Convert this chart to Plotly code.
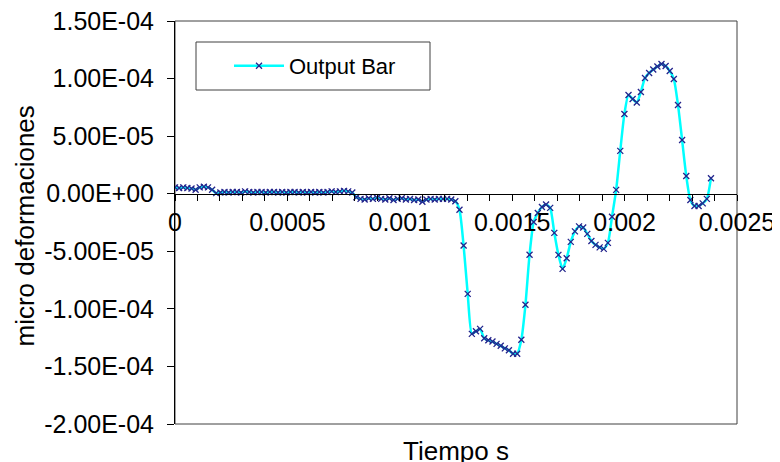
import plotly.graph_objects as go

# time in microseconds
t_us = [0, 18.3, 36.7, 55.0, 73.4, 91.7, 110.0, 128.4, 146.7, 165.1,
        183.4, 201.7, 220.1, 238.4, 256.8, 275.1, 293.4, 311.8, 330.1, 348.5,
        366.8, 385.1, 403.5, 421.8, 440.2, 458.5, 476.8, 495.2, 513.5, 531.9,
        550.2, 568.5, 586.9, 605.2, 623.6, 641.9, 660.2, 678.6, 696.9, 715.3,
        733.6, 751.9, 770.3, 788.6, 807.0, 825.3, 843.6, 862.0, 880.3, 898.7,
        917.0, 935.3, 953.7, 972.0, 990.4, 1008.7, 1027.0, 1045.4, 1063.7, 1082.1,
        1100.4, 1118.7, 1137.1, 1155.4, 1173.8, 1192.1, 1210.4, 1228.8, 1247.1, 1265.5,
        1283.8, 1302.1, 1320.5, 1338.8, 1357.2, 1375.5, 1393.8, 1412.2, 1430.5, 1448.9,
        1467.2, 1485.5, 1503.9, 1522.2, 1540.6, 1558.9, 1577.2, 1595.6, 1613.9, 1632.3,
        1650.6, 1668.9, 1687.3, 1705.6, 1724.0, 1742.3, 1760.6, 1779.0, 1797.3, 1815.7,
        1834.0, 1852.3, 1870.7, 1889.0, 1907.4, 1925.7, 1944.0, 1962.4, 1980.7, 1999.1,
        2017.4, 2035.7, 2054.1, 2072.4, 2090.8, 2109.1, 2127.4, 2145.8, 2164.1, 2182.5,
        2200.8, 2219.1, 2237.5, 2255.8, 2274.2, 2292.5, 2310.8, 2329.2, 2347.5, 2365.9,
        2384.2]

# strain values in units of 1e-6
strain_e6 = [5.5, 5.0, 5.5, 5.0, 4.5, 3.5, 5.5, 6.0, 5.5, 3.5,
             0.5, 1.0, 1.5, 1.0, 1.5, 1.5, 1.0, 2.0, 1.5, 1.0,
             1.5, 1.5, 1.0, 1.5, 1.5, 1.0, 1.5, 1.0, 1.5, 1.5,
             1.0, 1.5, 1.0, 1.5, 1.0, 1.5, 1.0, 1.5, 2.0, 1.5,
             2.0, 2.5, 2.0, 1.0, -3.0, -4.5, -5.0, -4.0, -4.5, -3.5,
             -4.5, -5.0, -4.0, -5.5, -4.5, -4.0, -5.0, -4.5, -5.5, -5.0,
             -7.0, -5.0, -4.5, -5.0, -4.5, -4.5, -4.5, -5.0, -6.5, -14.0,
             -45.0, -87.0, -121.7, -119.5, -117.4, -125.6, -127.3, -128.4, -130.4, -132.1,
             -134.3, -136.0, -139.0, -139.0, -126.9, -96.5, -53.0, -24.5, -16.7, -11.5,
             -9.3, -12.3, -34.0, -53.1, -65.3, -56.0, -41.8, -32.7, -28.4, -29.3,
             -34.9, -41.0, -44.4, -46.6, -47.9, -42.7, -20.0, 3.3, 37.2, 69.3,
             85.8, 82.3, 79.2, 88.4, 100.5, 104.9, 107.9, 110.5, 112.7, 110.9,
             106.6, 99.6, 77.1, 46.7, 15.4, -5.4, -10.6, -10.6, -8.4, -4.5,
             13.5]

series_name = "Output Bar"
x_tickvals = [0, 0.0005, 0.001, 0.0015, 0.002, 0.0025]
x_ticktext = ["0", "0.0005", "0.001", "0.0015", "0.002", "0.0025"]
y_tickvals = [1.5e-4, 1.0e-4, 5.0e-5, 0.0, -5.0e-5, -1.0e-4, -1.5e-4, -2.0e-4]
y_ticktext = ["1.50E-04", "1.00E-04", "5.00E-05", "0.00E+00",
              "-5.00E-05", "-1.00E-04", "-1.50E-04", "-2.00E-04"]

t = [v * 1e-6 for v in t_us]
y = [v * 1e-6 for v in strain_e6]

FONT = "Liberation Sans, Arial, sans-serif"

fig = go.Figure()
fig.add_trace(go.Scatter(
    x=t, y=y, mode="lines+markers", name=series_name,
    line=dict(color="#00FFFF", width=2.5, shape="spline", smoothing=0.6),
    marker=dict(symbol="x-thin", size=6, color="#24248C",
                line=dict(width=1.3, color="#24248C")),
))

fig.update_layout(
    width=780, height=462,
    margin=dict(l=167, r=51, t=13, b=46, autoexpand=False),
    paper_bgcolor="white", plot_bgcolor="white",
    font=dict(family=FONT, size=24, color="black"),
    showlegend=True,
    legend=dict(x=(229 - 175) / 562, y=(424 - 66) / 403, xanchor="left", yanchor="middle",
                bgcolor="rgba(0,0,0,0)", borderwidth=0, itemwidth=50,
                font=dict(family=FONT, size=22, color="black")),
    xaxis=dict(range=[0, 0.0025], anchor="free", position=4/7, automargin=False,
               showline=True, linecolor="black", linewidth=1,
               showgrid=False, zeroline=False,
               ticks="outside", ticklen=6, tickcolor="black",
               tickvals=x_tickvals, ticktext=x_ticktext,
               minor=dict(dtick=0.0001, ticks="outside", ticklen=6, tickcolor="black"),
               ticklabelstandoff=0, ticklabeloverflow="allow",
               tickfont=dict(family=FONT, size=25)),
    yaxis=dict(range=[-2.0e-4, 1.5e-4], automargin=False,
               showline=True, linecolor="black", linewidth=1,
               showgrid=False, zeroline=False,
               ticks="outside", ticklen=7, tickcolor="black",
               tickvals=y_tickvals, ticktext=y_ticktext,
               ticklabelstandoff=8, ticklabeloverflow="allow",
               tickfont=dict(family=FONT, size=25)),
    shapes=[
        dict(type="rect", xref="paper", yref="paper", x0=0, x1=1, y0=0, y1=1,
             line=dict(color="#404040", width=1), fillcolor="rgba(0,0,0,0)", layer="below"),
        dict(type="rect", xref="paper", yref="paper",
             x0=(196 - 175) / 562, x1=(430 - 175) / 562,
             y0=(424 - 90) / 403, y1=(424 - 42) / 403,
             line=dict(color="#404040", width=1), fillcolor="white", layer="below"),
    ],
    annotations=[
        dict(text="Tiempo s", xref="paper", yref="paper", x=0.5, y=-(434 - 424) / 403,
             xanchor="center", yanchor="top", showarrow=False,
             font=dict(family=FONT, size=26, color="black")),
        dict(text="micro deformaciones", xref="paper", yref="paper",
             x=-151 / 562, y=0.5 - 4 / 403, xanchor="center", yanchor="middle", textangle=-90,
             showarrow=False, font=dict(family=FONT, size=26, color="black")),
    ],
)

fig.write_html("out.html")
